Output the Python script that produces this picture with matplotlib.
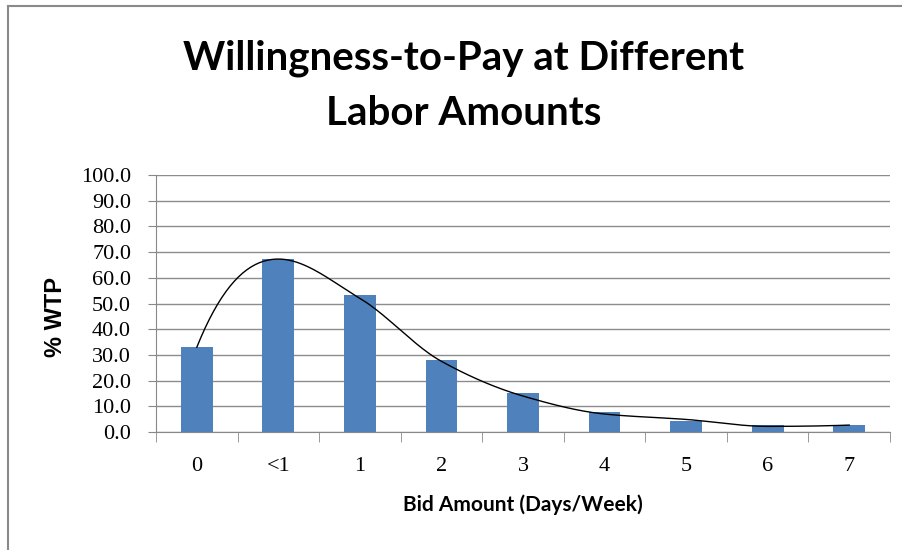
import numpy as np
import matplotlib
matplotlib.use("Agg")
import matplotlib.pyplot as plt
from matplotlib.lines import Line2D

# data
categories = ['0', '<1', '1', '2', '3', '4', '5', '6', '7']
wtp = [33.0, 67.3, 53.3, 28.0, 15.3, 7.7, 4.1, 2.9, 2.9]
# smoothed line (sits slightly off the bar tops on the right side)
wtp_line = [33.0, 67.3, 52.0, 27.5, 14.0, 7.0, 4.9, 2.2, 2.7]
y_ticks = [0, 10, 20, 30, 40, 50, 60, 70, 80, 90, 100]


def smooth_line(x, y, n=40):
    # piecewise cubic Hermite through the points: flat at peaks, steep ends
    x = np.asarray(x, float)
    y = np.asarray(y, float)
    h = np.diff(x)
    d = np.diff(y) / h
    m = np.zeros_like(y)
    for i in range(1, len(y) - 1):
        if d[i - 1] * d[i] > 0:
            m[i] = 2.0 / (1.0 / d[i - 1] + 1.0 / d[i])
    m[0] = 2.3 * d[0] - m[1]
    m[-1] = 2.3 * d[-1] - m[-2]
    xs, ys = [], []
    for i in range(len(y) - 1):
        t = np.linspace(0, 1, n)
        h00 = 2 * t ** 3 - 3 * t ** 2 + 1
        h10 = t ** 3 - 2 * t ** 2 + t
        h01 = -2 * t ** 3 + 3 * t ** 2
        h11 = t ** 3 - t ** 2
        xs.append(x[i] + t * h[i])
        ys.append(h00 * y[i] + h10 * h[i] * m[i] + h01 * y[i + 1] + h11 * h[i] * m[i + 1])
    return np.concatenate(xs), np.concatenate(ys)


fig = plt.figure(figsize=(9.03, 5.5), dpi=100)
# chart border (only top and left edges are in the picture)
fig.add_artist(Line2D([0.009, 1.0], [0.989, 0.989], transform=fig.transFigure,
                      color='#8a8a8a', linewidth=1.5))
fig.add_artist(Line2D([0.009, 0.009], [0.0, 0.989], transform=fig.transFigure,
                      color='#8a8a8a', linewidth=1.5))

ax = fig.add_axes([0.1728, 0.2145, 0.8128, 0.4673])
x = np.arange(len(categories))
ax.bar(x, wtp, width=0.39, color='#4F81BD', zorder=2)
sx, sy = smooth_line(x, wtp_line)
ax.plot(sx, sy, color='black', linewidth=1, zorder=3)

ax.set_xlim(-0.5, len(categories) - 0.5)
ax.set_ylim(0, 100)
ax.set_yticks(y_ticks)
ax.set_yticklabels(['%.1f' % v for v in y_ticks], family='Liberation Serif', fontsize=16)
ax.set_xticks(x)
ax.set_xticklabels(categories, family='Liberation Serif', fontsize=16)
ax.set_xticks(np.arange(len(categories) + 1) - 0.5, minor=True)
ax.tick_params(axis='x', which='major', length=0, pad=18)
ax.tick_params(axis='x', which='minor', length=7, color='#888888')
ax.tick_params(axis='y', length=6, color='#888888', pad=12)
ax.grid(axis='y', color='#8c8c8c', linewidth=1, zorder=1)
for s in ['top', 'right']:
    ax.spines[s].set_visible(False)
ax.spines['left'].set_color('#888888')
ax.spines['bottom'].set_color('#888888')

ax.set_ylabel('% WTP', family='Liberation Sans', fontweight='bold', fontsize=17)
ax.yaxis.label.set_va('center')
ax.yaxis.set_label_coords(-0.137, 0.447)
ax.set_xlabel('Bid Amount (Days/Week)', family='Lato', fontweight='bold', fontsize=15)
ax.xaxis.label.set_va('center')
ax.xaxis.set_label_coords(0.5, -0.284)

fig.text(0.513, 1 - 70 / 550, 'Willingness-to-Pay at Different', ha='center', va='baseline',
         family='Lato', fontweight='bold', fontsize=29)
fig.text(0.513, 1 - 125 / 550, 'Labor Amounts', ha='center', va='baseline',
         family='Lato', fontweight='bold', fontsize=29)

fig.savefig('out.png', dpi=100)
